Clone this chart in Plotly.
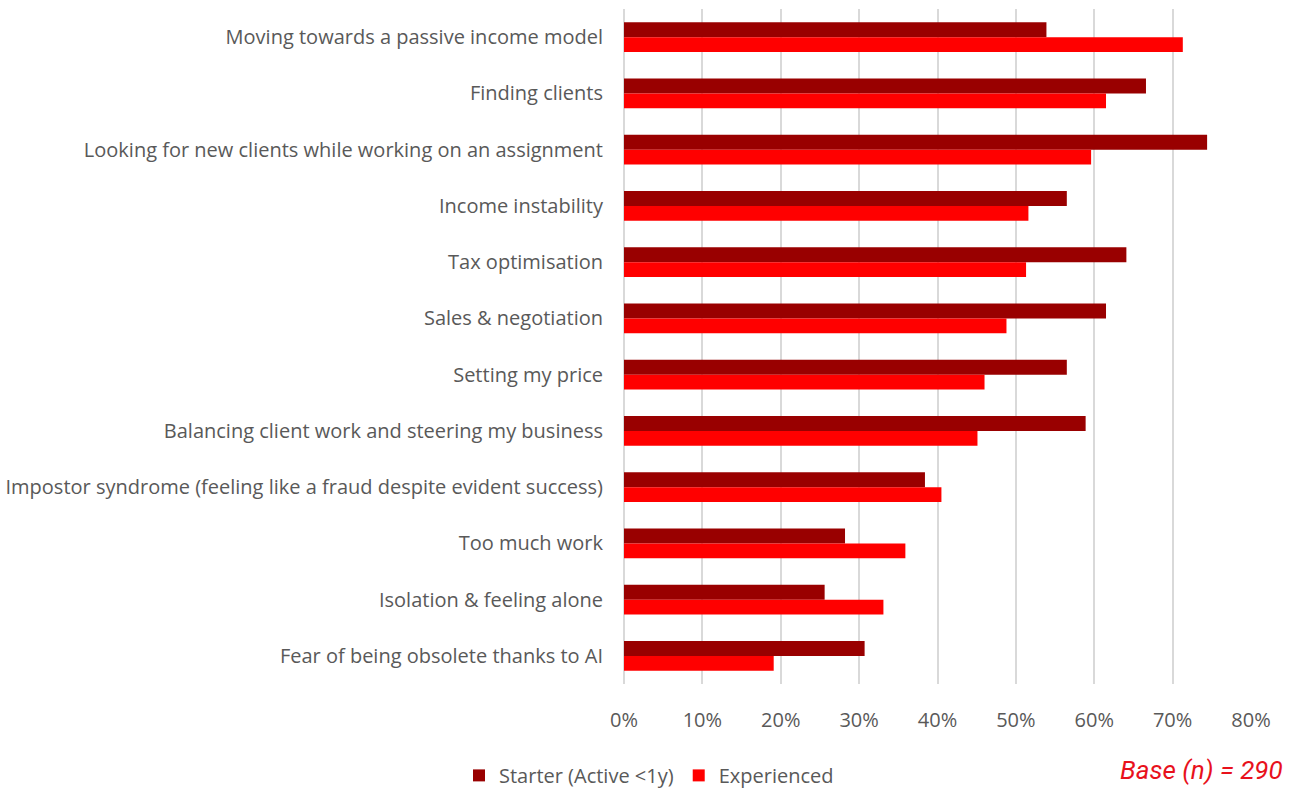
import plotly.graph_objects as go

categories = [
    "Moving towards a passive income model",
    "Finding clients",
    "Looking for new clients while working on an assignment",
    "Income instability",
    "Tax optimisation",
    "Sales & negotiation",
    "Setting my price",
    "Balancing client work and steering my business",
    "Impostor syndrome (feeling like a fraud despite evident success)",
    "Too much work",
    "Isolation & feeling alone",
    "Fear of being obsolete thanks to AI",
]
starter = [0.539, 0.666, 0.744, 0.565, 0.641, 0.615, 0.565, 0.589, 0.384, 0.282, 0.256, 0.307]
experienced = [0.713, 0.615, 0.596, 0.516, 0.513, 0.488, 0.460, 0.451, 0.405, 0.359, 0.331, 0.191]
x_ticks = [0, 0.1, 0.2, 0.3, 0.4, 0.5, 0.6, 0.7, 0.8]
x_tick_text = ["0%", "10%", "20%", "30%", "40%", "50%", "60%", "70%", "80%"]

FONT = "Open Sans"
TEXT_GRAY = "#595959"

fig = go.Figure()
fig.add_trace(go.Bar(
    y=categories, x=starter, orientation="h", name="Starter (Active <1y)",
    marker=dict(color="#990000", line=dict(width=0)),
))
fig.add_trace(go.Bar(
    y=categories, x=experienced, orientation="h", name="Experienced",
    marker=dict(color="#FF0000", line=dict(width=0)),
))

fig.update_layout(
    width=1298, height=788,
    margin=dict(l=624, r=47, t=9, b=104),
    barmode="group", bargap=0.47, bargroupgap=0,
    plot_bgcolor="white", paper_bgcolor="white",
    font=dict(family=FONT, size=20, color=TEXT_GRAY),
    legend=dict(
        orientation="h", xref="container", yref="container",
        x=0.5, xanchor="center", y=0.016, yanchor="middle",
        font=dict(size=20, color=TEXT_GRAY), itemwidth=30,
        traceorder="normal",
    ),
    xaxis=dict(
        range=[0, 0.8], tickvals=x_ticks, ticktext=x_tick_text,
        showgrid=True, gridcolor="#D9D9D9", gridwidth=2,
        zeroline=True, zerolinecolor="#D9D9D9", zerolinewidth=2,
        ticks="outside", ticklen=18, tickcolor="rgba(0,0,0,0)",
        tickfont=dict(size=20, color=TEXT_GRAY), fixedrange=True,
        automargin=False,
    ),
    yaxis=dict(
        autorange="reversed", showgrid=False,
        ticks="outside", ticklen=16, tickcolor="rgba(0,0,0,0)",
        tickfont=dict(size=20, color=TEXT_GRAY), fixedrange=True,
        automargin=False,
    ),
    annotations=[dict(
        text="<i>Base (n) = 290</i>", xref="paper", yref="paper",
        x=(1285 - 624) / 627, y=(684 - 770) / 675,
        xanchor="right", yanchor="middle", showarrow=False,
        font=dict(family="Roboto", size=26, color="#E8111C"),
    )],
)

fig.write_html("out.html")
